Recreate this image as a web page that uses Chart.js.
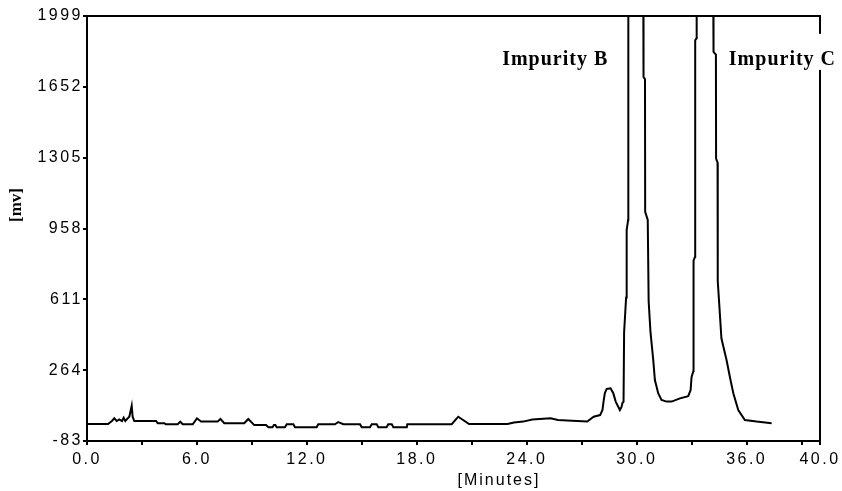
<!DOCTYPE html>
<html><head><meta charset="utf-8">
<script src="https://cdn.jsdelivr.net/npm/chart.js@4/dist/chart.umd.min.js"></script>
<style>html,body{margin:0;padding:0;background:#fff;}#wrap{width:842px;height:491px;}</style>
</head><body><div id="wrap"><canvas id="c" width="842" height="491"></canvas></div>
<script>
// Retention time (minutes) and detector signal (mV)
const retentionTimes = [
  0, 1.15, 1.22, 1.36, 1.49, 1.62, 1.76, 1.91, 2.0, 2.09, 2.22, 2.31, 2.44, 2.49, 2.58, 3.77, 3.86, 4.22, 4.3, 4.95,
  5.09, 5.22, 5.77, 6.0, 6.22, 7.13, 7.28, 7.49, 8.58, 8.8, 9.13, 9.77, 9.9, 10.12, 10.2, 10.28, 10.35, 10.8, 10.9, 11.26,
  11.35, 12.53, 12.62, 13.53, 13.71, 13.99, 14.9, 14.99, 15.44, 15.54, 15.81, 15.9, 16.35, 16.44, 16.63, 16.72, 17.45, 17.48, 19.9, 20.26,
  20.85, 22.95, 23.3, 23.8, 24.3, 25.3, 25.7, 26.2, 27.3, 27.65, 28.0, 28.13, 28.2, 28.26, 28.36, 28.57, 28.72, 28.85, 28.99, 29.08,
  29.17, 29.22, 29.28, 29.31, 29.42, 29.45, 29.53, 29.54, 30.36, 30.37, 30.45, 30.46, 30.6, 30.65, 30.75, 30.9, 30.99, 31.17, 31.35, 31.63,
  31.9, 32.36, 32.81, 32.94, 32.99, 33.09, 33.1, 33.18, 33.19, 33.26, 33.27, 34.18, 34.19, 34.32, 34.33, 34.41, 34.42, 34.5, 34.62, 34.9,
  35.08, 35.27, 35.54, 35.9, 36.54, 37.36
];
const signalMv = [
  0, 0, 5, 15, 28, 15, 23, 15, 31, 15, 28, 36, 90, 36, 15, 15, 4, 4, -1, -1,
  12, -1, -1, 28, 12, 12, 25, 4, 4, 25, -5, -5, -16, -16, -5, -5, -16, -16, -1, -1,
  -16, -16, -1, -1, 10, -1, -1, -16, -16, -1, -1, -16, -16, -1, -1, -16, -16, -1, -1, 36,
  0, 0, 8, 12, 22, 28, 20, 17, 12, 36, 44, 69, 118, 152, 172, 175, 151, 110, 85, 69,
  84, 103, 110, 450, 620, 950, 1000, 1999, 1999, 1700, 1690, 1040, 1000, 600, 450, 314, 216, 151, 118, 110,
  110, 126, 137, 167, 230, 260, 800, 820, 1880, 1890, 1999, 1999, 1823, 1810, 1300, 1280, 700, 590, 420, 314,
  232, 151, 69, 20, 12, 4
];
const xTickValues = [0, 3, 6, 9, 12, 15, 18, 21, 24, 27, 30, 33, 36, 39, 40];
const xLabeledTicks = [0, 6, 12, 18, 24, 30, 36, 40];
const yTickValues = [-83, 264, 611, 958, 1305, 1652, 1999];
const peakNames = ['Impurity B', 'Impurity C'];
const peakLabelTimes = [25.55, 37.95];
const peakLabelMv = 1784;

const points = retentionTimes.map((t, i) => ({ x: t, y: signalMv[i] }));

const spacingPlugin = {
  id: 'spacing',
  beforeLayout(chart) { chart.ctx.letterSpacing = '2.5px'; },
  beforeDraw(chart) { chart.ctx.letterSpacing = '2.5px'; }
};

const extrasPlugin = {
  id: 'extras',
  afterDraw(chart) {
    const ctx = chart.ctx;
    const a = chart.chartArea;
    const xs = chart.scales.x, ys = chart.scales.y;
    ctx.save();
    ctx.letterSpacing = '0px';
    ctx.strokeStyle = '#000';
    ctx.lineWidth = 2;
    ctx.beginPath();
    ctx.moveTo(a.left, a.top); ctx.lineTo(a.right, a.top); ctx.lineTo(a.right, a.bottom);
    ctx.stroke();
    // peak labels
    ctx.font = 'bold 20px "Liberation Serif"';
    ctx.letterSpacing = '1px';
    ctx.textAlign = 'center';
    ctx.textBaseline = 'middle';
    peakNames.forEach((name, i) => {
      const px = xs.getPixelForValue(peakLabelTimes[i]);
      const py = ys.getPixelForValue(peakLabelMv);
      const w = ctx.measureText(name).width;
      ctx.fillStyle = '#fff';
      ctx.fillRect(px - w / 2 - 2, py - 26, w + 4, 36);
      ctx.fillStyle = '#000';
      ctx.fillText(name, px, py);
    });
    // y title
    ctx.letterSpacing = '0px';
    ctx.font = 'bold 17px "Liberation Serif"';
    ctx.save();
    ctx.translate(17, 205);
    ctx.rotate(-Math.PI / 2);
    ctx.fillText('[mv]', 0, 0);
    ctx.restore();
    // x title
    ctx.font = '16px "Liberation Sans"';
    ctx.letterSpacing = '2px';
    ctx.fillText('[Minutes]', 499, 481);
    ctx.restore();
  }
};

new Chart(document.getElementById('c'), {
  type: 'line',
  data: {
    datasets: [{
      data: points,
      borderColor: '#000',
      borderWidth: 2,
      pointRadius: 0,
      tension: 0,
      fill: false
    }]
  },
  options: {
    responsive: false,
    animation: false,
    devicePixelRatio: 1,
    layout: { padding: { top: 16, right: 22, left: 0, bottom: 0 } },
    plugins: { legend: { display: false }, tooltip: { enabled: false } },
    scales: {
      x: {
        type: 'linear',
        min: 0, max: 40,
        afterBuildTicks: s => { s.ticks = xTickValues.map(v => ({ value: v })); },
        afterFit: s => { s.height = 50; s.paddingLeft = 0; s.paddingRight = 0; },
        ticks: {
          autoSkip: false, maxRotation: 0, minRotation: 0, padding: 5,
          color: '#000',
          font: { family: '"Liberation Sans"', size: 16 },
          callback: v => xLabeledTicks.includes(v) ? v.toFixed(1) : ''
        },
        grid: { drawOnChartArea: false, drawTicks: true, tickLength: 4, color: '#000', lineWidth: 2 },
        border: { display: true, color: '#000', width: 2 }
      },
      y: {
        type: 'linear',
        min: -83, max: 1999,
        afterBuildTicks: s => { s.ticks = yTickValues.map(v => ({ value: v })); },
        afterFit: s => { s.width = 87; s.paddingTop = 0; s.paddingBottom = 0; },
        ticks: {
          autoSkip: false, padding: 0,
          color: '#000',
          font: { family: '"Liberation Sans"', size: 16 },
          callback: v => String(v)
        },
        grid: { drawOnChartArea: false, drawTicks: true, tickLength: 4, color: '#000', lineWidth: 2 },
        border: { display: true, color: '#000', width: 2 }
      }
    }
  },
  plugins: [spacingPlugin, extrasPlugin]
});
</script></body></html>
